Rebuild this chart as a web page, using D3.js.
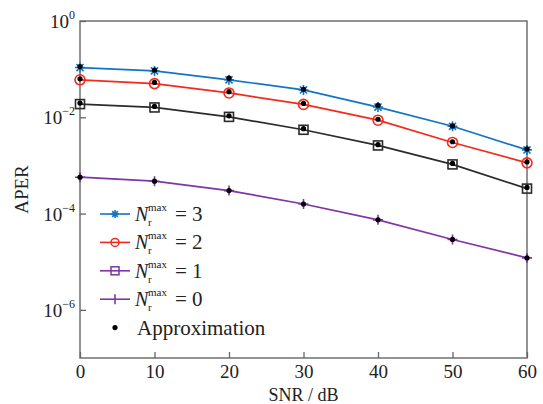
<!DOCTYPE html>
<html>
<head>
<meta charset="utf-8">
<script src="https://cdn.jsdelivr.net/npm/d3@7"></script>
<style>
  body { margin: 0; background: #fff; }
  text { font-family: "Liberation Serif", "Times New Roman", serif; fill: #222; }
</style>
</head>
<body>
<svg id="chart" width="543" height="404"></svg>
<script>
// data
const snr = [0, 10, 20, 30, 40, 50, 60];
const nr3 = [0.108, 0.092, 0.060, 0.037, 0.0163, 0.0065, 0.0021];
const nr2 = [0.060, 0.050, 0.032, 0.0185, 0.0087, 0.0030, 0.00113];
const nr1 = [0.0188, 0.016, 0.0102, 0.0055, 0.0026, 0.00105, 0.00033];
const nr0 = [5.7e-4, 4.7e-4, 3.0e-4, 1.58e-4, 7.4e-5, 2.9e-5, 1.2e-5];
const ap3 = [0.113, 0.096, 0.065, 0.038, 0.0178, 0.0066, 0.0022];
const ap2 = [0.063, 0.053, 0.034, 0.0194, 0.0091, 0.0031, 0.00118];
const ap1 = [0.0197, 0.0168, 0.0107, 0.0058, 0.0027, 0.0011, 0.00035];
const ap0 = [5.7e-4, 4.7e-4, 3.0e-4, 1.58e-4, 7.4e-5, 2.9e-5, 1.2e-5];
const xTicks = [0, 10, 20, 30, 40, 50, 60];
const yTickExp = [0, -2, -4, -6];
const legendVals = [3, 2, 1, 0];

const svg = d3.select("#chart");
const m = {left: 80, right: 16, top: 21, bottom: 46};
const W = 543, H = 404;

const x = d3.scaleLinear().domain([0, 60]).range([m.left, W - m.right]);
const y = d3.scaleLog().domain([1e-7, 1]).range([H - m.bottom, m.top]);

const axisColor = "#666";

// frame: left + bottom axis with inner ticks, top and right plain lines
svg.append("rect")
  .attr("x", x(0)).attr("y", y(1))
  .attr("width", x(60) - x(0)).attr("height", y(1e-7) - y(1))
  .attr("fill", "none").attr("stroke", axisColor).attr("stroke-width", 1.4);

const gx = svg.append("g").attr("transform", `translate(0,${y(1e-7)})`)
  .call(d3.axisBottom(x).tickValues(xTicks).tickSizeInner(-6).tickSizeOuter(0).tickPadding(7));
gx.select(".domain").remove();
gx.selectAll("line").attr("stroke", axisColor).attr("stroke-width", 1.3);
gx.selectAll("text").attr("font-size", 19).attr("fill", "#222")
  .style("font-family", '"Liberation Serif", serif');

const gy = svg.append("g").attr("transform", `translate(${x(0)},0)`)
  .call(d3.axisLeft(y).tickValues(yTickExp.map(e => Math.pow(10, e))).tickSizeInner(-6).tickSizeOuter(0).tickFormat(""));
gy.select(".domain").remove();
gy.selectAll("line").attr("stroke", axisColor).attr("stroke-width", 1.3);

// y tick labels with superscript exponents
yTickExp.forEach(e => {
  const t = svg.append("text")
    .attr("x", 75).attr("y", y(Math.pow(10, e)) + 7)
    .attr("text-anchor", "end").attr("font-size", 19);
  t.append("tspan").text("10");
  t.append("tspan").attr("dy", -9).attr("font-size", 12)
    .text(e === 0 ? "0" : "\u2212" + Math.abs(e));
});

// axis titles
svg.append("text")
  .attr("x", (x(0) + x(60)) / 2).attr("y", 401)
  .attr("text-anchor", "middle").attr("font-size", 18)
  .text("SNR / dB");
svg.append("text")
  .attr("transform", `translate(28,${(y(1) + y(1e-7)) / 2}) rotate(-90)`)
  .attr("text-anchor", "middle").attr("font-size", 19)
  .text("APER");

// markers
const star = d3.symbol().type({
  draw(ctx, size) {
    const r = Math.sqrt(size) / 2;
    for (let k = 0; k < 4; k++) {
      const a = k * Math.PI / 4;
      ctx.moveTo(-r * Math.cos(a), -r * Math.sin(a));
      ctx.lineTo(r * Math.cos(a), r * Math.sin(a));
    }
  }
}).size(100);
const plus = d3.symbol().type({
  draw(ctx, size) {
    const r = Math.sqrt(size) / 2;
    ctx.moveTo(-r, 0); ctx.lineTo(r, 0);
    ctx.moveTo(0, -r); ctx.lineTo(0, r);
  }
}).size(100);

function drawMarker(g, kind, color) {
  if (kind === "star") {
    g.append("path").attr("d", star()).attr("stroke", color).attr("stroke-width", 1.6).attr("fill", "none");
  } else if (kind === "circle") {
    g.append("circle").attr("r", 5).attr("stroke", color).attr("stroke-width", 1.6).attr("fill", "none");
  } else if (kind === "square") {
    g.append("rect").attr("x", -4.5).attr("y", -4.5).attr("width", 9).attr("height", 9)
      .attr("stroke", color).attr("stroke-width", 1.6).attr("fill", "none");
  } else if (kind === "plus") {
    g.append("path").attr("d", plus()).attr("stroke", color).attr("stroke-width", 1.6).attr("fill", "none");
  }
}

const series = [
  {vals: nr3, ap: ap3, color: "#1374c4", marker: "star"},
  {vals: nr2, ap: ap2, color: "#f42a1e", marker: "circle"},
  {vals: nr1, ap: ap1, color: "#2b2b2b", marker: "square"},
  {vals: nr0, ap: ap0, color: "#7e35a6", marker: "plus"}
];

const line = d3.line().x(d => x(d[0])).y(d => y(d[1]));

series.forEach(s => {
  const pts = snr.map((v, i) => [v, s.vals[i]]);
  svg.append("path").datum(pts).attr("d", line)
    .attr("fill", "none").attr("stroke", s.color).attr("stroke-width", 1.7);
  pts.forEach(p => {
    const g = svg.append("g").attr("transform", `translate(${x(p[0])},${y(p[1])})`);
    drawMarker(g, s.marker, s.color);
  });
});

// approximation dots
series.forEach(s => {
  svg.selectAll(null).data(snr.map((v, i) => [v, s.ap[i]])).enter()
    .append("circle")
    .attr("cx", d => x(d[0])).attr("cy", d => y(d[1]))
    .attr("r", 2.6).attr("fill", "#000");
});

// legend
const legendColors = ["#1374c4", "#f42a1e", "#7e35a6", "#7e35a6"];
const legendMarkers = ["star", "circle", "square", "vbar"];
const lx = 100, ly0 = 214, dy = 28.4;
legendVals.forEach((v, i) => {
  const yy = ly0 + i * dy;
  const c = legendColors[i];
  svg.append("line").attr("x1", lx).attr("x2", lx + 30).attr("y1", yy).attr("y2", yy)
    .attr("stroke", c).attr("stroke-width", 1.6);
  const g = svg.append("g").attr("transform", `translate(${lx + 15},${yy})`);
  if (legendMarkers[i] === "vbar") {
    g.append("line").attr("y1", -5).attr("y2", 5).attr("stroke", c).attr("stroke-width", 1.6);
  } else if (legendMarkers[i] === "star") {
    g.append("path").attr("d", star.size(64)()).attr("stroke", c).attr("stroke-width", 1.6).attr("fill", "none");
  } else if (legendMarkers[i] === "circle") {
    g.append("circle").attr("r", 4).attr("stroke", c).attr("stroke-width", 1.5).attr("fill", "none");
  } else {
    g.append("rect").attr("x", -4).attr("y", -4).attr("width", 8).attr("height", 8)
      .attr("stroke", c).attr("stroke-width", 1.5).attr("fill", "none");
  }
  svg.append("text").attr("x", lx + 35).attr("y", yy + 7).attr("font-size", 20)
    .attr("font-style", "italic").text("N");
  svg.append("text").attr("x", lx + 48).attr("y", yy - 3).attr("font-size", 11).text("max");
  svg.append("text").attr("x", lx + 48).attr("y", yy + 12).attr("font-size", 11).text("r");
  svg.append("text").attr("x", lx + 75).attr("y", yy + 7).attr("font-size", 21).text("= " + v);
});
{
  const yy = ly0 + 4 * dy;
  svg.append("circle").attr("cx", lx + 15).attr("cy", yy).attr("r", 2.6).attr("fill", "#000");
  svg.append("text").attr("x", lx + 37).attr("y", yy + 7).attr("font-size", 21).text("Approximation");
}
</script>
</body>
</html>
